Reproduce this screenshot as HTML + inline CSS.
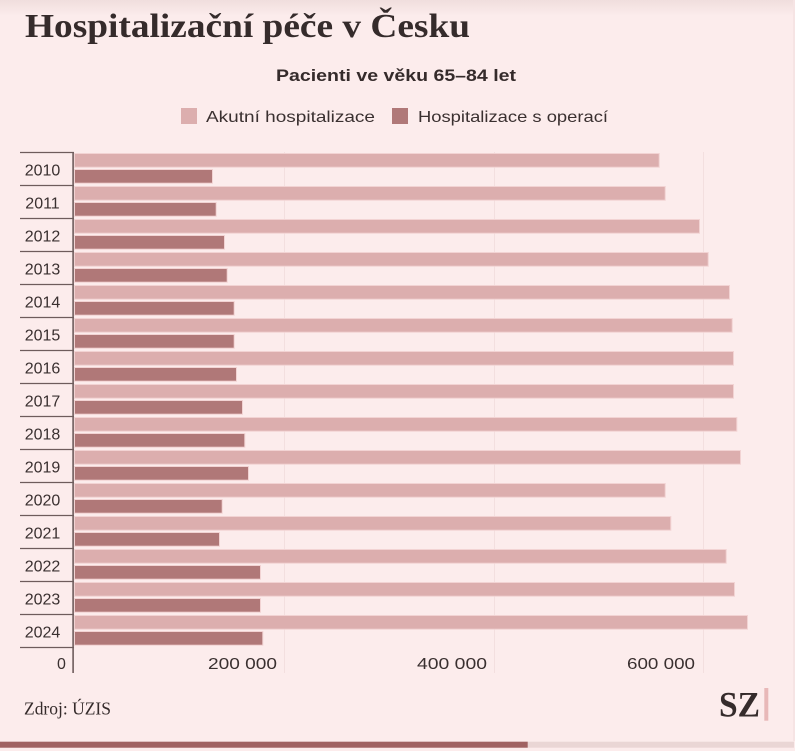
<!DOCTYPE html>
<html><head><meta charset="utf-8"><style>
html,body{margin:0;padding:0;background:#fcecec;}
body{width:795px;height:751px;overflow:hidden;position:relative;}
svg{display:block;}
</style></head><body>
<svg width="795" height="751" viewBox="0 0 795 751" xmlns="http://www.w3.org/2000/svg">
<defs>
<linearGradient id="tg" x1="0" y1="0" x2="0" y2="1">
<stop offset="0" stop-color="#f0dedd"/>
<stop offset="1" stop-color="#fcecec"/>
</linearGradient>
</defs>
<rect x="0" y="0" width="795" height="751" fill="#fcecec"/>
<rect x="0" y="0" width="795" height="16" fill="url(#tg)"/>
<rect x="793" y="0" width="2" height="741" fill="#f6e4e4"/>

<text x="25" y="37" font-family="Liberation Serif, serif" font-weight="bold" font-size="34" fill="#352b2b" textLength="445" lengthAdjust="spacingAndGlyphs">Hospitalizační péče v Česku</text>

<text x="276" y="81" font-family="Liberation Sans, sans-serif" font-weight="bold" font-size="17" fill="#352b2b" textLength="240" lengthAdjust="spacingAndGlyphs">Pacienti ve věku 65–84 let</text>

<rect x="181" y="108" width="16" height="16" fill="#dcaeae"/>
<text x="206" y="122" font-family="Liberation Sans, sans-serif" font-size="16" fill="#3a3030" textLength="169" lengthAdjust="spacingAndGlyphs">Akutní hospitalizace</text>
<rect x="392" y="108" width="16" height="16" fill="#b07878"/>
<text x="418" y="122" font-family="Liberation Sans, sans-serif" font-size="16" fill="#3a3030" textLength="190" lengthAdjust="spacingAndGlyphs">Hospitalizace s operací</text>

<!-- gridlines -->
<g stroke="#f3dfdf" stroke-width="1">
<line x1="284.5" y1="152" x2="284.5" y2="673"/>
<line x1="494.5" y1="152" x2="494.5" y2="673"/>
<line x1="703.5" y1="152" x2="703.5" y2="673"/>
</g>

<g id="bars" stroke="#f2d3d3" stroke-width="1">
<rect x="74.5" y="153.5" width="584.7" height="13.7" fill="#dcaeae"/>
<rect x="74.5" y="169.5" width="138" height="13.7" fill="#b07878"/>
<rect x="74.5" y="186.5" width="590.7" height="13.7" fill="#dcaeae"/>
<rect x="74.5" y="202.5" width="141.7" height="13.7" fill="#b07878"/>
<rect x="74.5" y="219.5" width="625" height="13.7" fill="#dcaeae"/>
<rect x="74.5" y="235.5" width="150" height="13.7" fill="#b07878"/>
<rect x="74.5" y="252.5" width="633.7" height="13.7" fill="#dcaeae"/>
<rect x="74.5" y="268.5" width="152.7" height="13.7" fill="#b07878"/>
<rect x="74.5" y="285.5" width="655" height="13.7" fill="#dcaeae"/>
<rect x="74.5" y="301.5" width="159.7" height="13.7" fill="#b07878"/>
<rect x="74.5" y="318.5" width="657.7" height="13.7" fill="#dcaeae"/>
<rect x="74.5" y="334.5" width="159.7" height="13.7" fill="#b07878"/>
<rect x="74.5" y="351.5" width="659" height="13.7" fill="#dcaeae"/>
<rect x="74.5" y="367.5" width="162" height="13.7" fill="#b07878"/>
<rect x="74.5" y="384.5" width="659" height="13.7" fill="#dcaeae"/>
<rect x="74.5" y="400.5" width="168" height="13.7" fill="#b07878"/>
<rect x="74.5" y="417.5" width="662.3" height="13.7" fill="#dcaeae"/>
<rect x="74.5" y="433.5" width="170.3" height="13.7" fill="#b07878"/>
<rect x="74.5" y="450.5" width="666" height="13.7" fill="#dcaeae"/>
<rect x="74.5" y="466.5" width="174" height="13.7" fill="#b07878"/>
<rect x="74.5" y="483.5" width="590.7" height="13.7" fill="#dcaeae"/>
<rect x="74.5" y="499.5" width="147.7" height="13.7" fill="#b07878"/>
<rect x="74.5" y="516.5" width="596.3" height="13.7" fill="#dcaeae"/>
<rect x="74.5" y="532.5" width="145" height="13.7" fill="#b07878"/>
<rect x="74.5" y="549.5" width="651.7" height="13.7" fill="#dcaeae"/>
<rect x="74.5" y="565.5" width="186" height="13.7" fill="#b07878"/>
<rect x="74.5" y="582.5" width="660" height="13.7" fill="#dcaeae"/>
<rect x="74.5" y="598.5" width="186" height="13.7" fill="#b07878"/>
<rect x="74.5" y="615.5" width="673" height="13.7" fill="#dcaeae"/>
<rect x="74.5" y="631.5" width="188.3" height="13.7" fill="#b07878"/>
</g>

<!-- category separators -->
<g stroke="#6e5c5c" stroke-width="1.3">
<line x1="20" y1="152.5" x2="74" y2="152.5"/>
<line x1="20" y1="185.5" x2="74" y2="185.5"/>
<line x1="20" y1="218.5" x2="74" y2="218.5"/>
<line x1="20" y1="251.5" x2="74" y2="251.5"/>
<line x1="20" y1="284.5" x2="74" y2="284.5"/>
<line x1="20" y1="317.5" x2="74" y2="317.5"/>
<line x1="20" y1="350.5" x2="74" y2="350.5"/>
<line x1="20" y1="383.5" x2="74" y2="383.5"/>
<line x1="20" y1="416.5" x2="74" y2="416.5"/>
<line x1="20" y1="449.5" x2="74" y2="449.5"/>
<line x1="20" y1="482.5" x2="74" y2="482.5"/>
<line x1="20" y1="515.5" x2="74" y2="515.5"/>
<line x1="20" y1="548.5" x2="74" y2="548.5"/>
<line x1="20" y1="581.5" x2="74" y2="581.5"/>
<line x1="20" y1="614.5" x2="74" y2="614.5"/>
<line x1="20" y1="647.5" x2="74" y2="647.5"/>
</g>
<rect x="72.3" y="152" width="1.6" height="521" fill="#6e5c5c"/>

<g font-family="Liberation Sans, sans-serif" font-size="16" fill="#3a3030" text-anchor="middle">
<text x="42.5" y="175.5">2010</text>
<text x="42.5" y="208.5">2011</text>
<text x="42.5" y="241.5">2012</text>
<text x="42.5" y="274.5">2013</text>
<text x="42.5" y="307.5">2014</text>
<text x="42.5" y="340.5">2015</text>
<text x="42.5" y="373.5">2016</text>
<text x="42.5" y="406.5">2017</text>
<text x="42.5" y="439.5">2018</text>
<text x="42.5" y="472.5">2019</text>
<text x="42.5" y="505.5">2020</text>
<text x="42.5" y="538.5">2021</text>
<text x="42.5" y="571.5">2022</text>
<text x="42.5" y="604.5">2023</text>
<text x="42.5" y="637.5">2024</text>
</g>

<g font-family="Liberation Sans, sans-serif" font-size="16" fill="#3a3030">
<text x="57" y="669">0</text>
<text x="208" y="669" textLength="69" lengthAdjust="spacingAndGlyphs">200 000</text>
<text x="417" y="669" textLength="70" lengthAdjust="spacingAndGlyphs">400 000</text>
<text x="627" y="669" textLength="68" lengthAdjust="spacingAndGlyphs">600 000</text>
</g>

<text x="24" y="714.5" font-family="Liberation Serif, serif" font-size="18" fill="#352b2b" textLength="87" lengthAdjust="spacingAndGlyphs">Zdroj: ÚZIS</text>

<text x="719" y="716.7" font-family="Liberation Serif, serif" font-weight="bold" font-size="36" fill="#352b2b" textLength="41" lengthAdjust="spacingAndGlyphs">SZ</text>
<rect x="764.3" y="688" width="4" height="32.7" fill="#e8b8b8"/>

<rect x="0" y="741.7" width="794" height="6" fill="#ead6d5"/>
<rect x="0" y="741.7" width="527.7" height="6" fill="#a06262"/>
</svg>
</body></html>
